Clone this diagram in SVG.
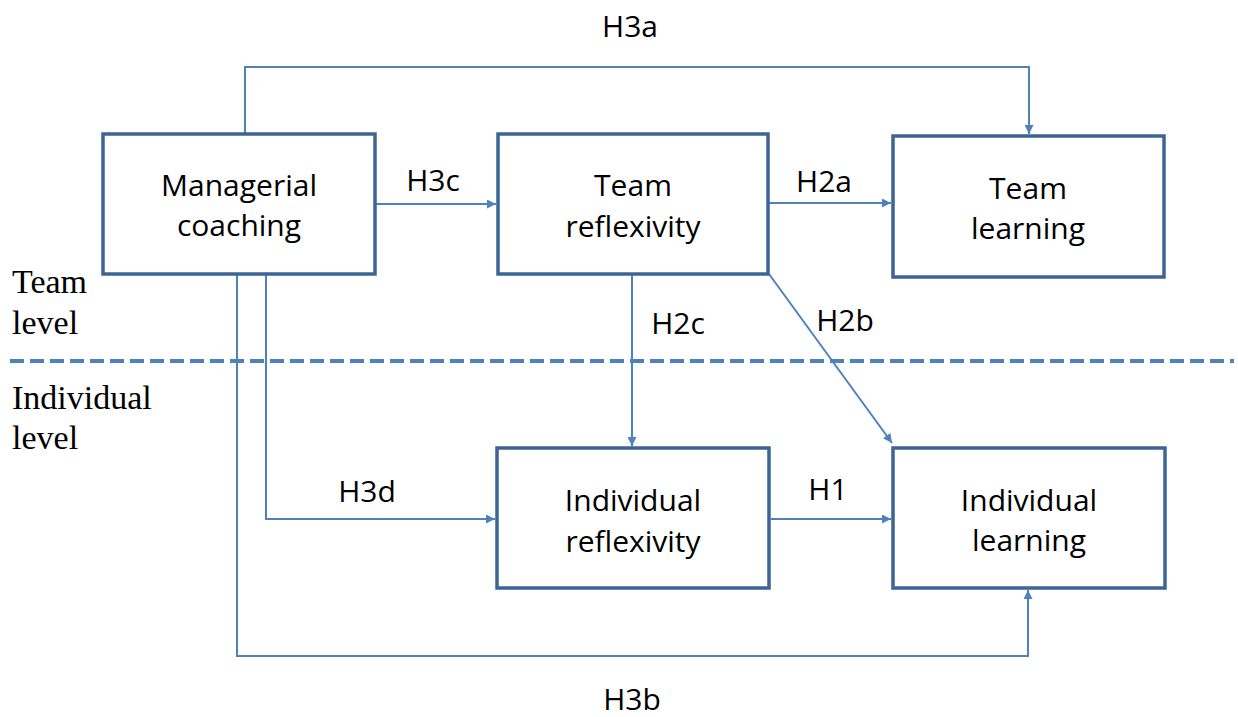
<svg xmlns="http://www.w3.org/2000/svg" width="1238" height="717" viewBox="0 0 1238 717">
<style>
.box{fill:#fff;stroke:#3d6494;stroke-width:3.5}
.lbl{font-family:"Open Sans","Liberation Sans",sans-serif;font-size:30px;fill:#000;text-anchor:middle}
.side{font-family:"Liberation Serif",serif;font-size:34px;fill:#000}
.con{fill:none;stroke:#4f81bd;stroke-width:2}
</style>
<defs>
<marker id="ah" viewBox="0 0 10 10" refX="10" refY="5" markerWidth="10" markerHeight="9" orient="auto" markerUnits="userSpaceOnUse">
<path d="M0,0 L10,5 L0,10 z" fill="#4f81bd"/>
</marker>
</defs>
<rect width="1238" height="717" fill="#fff"/>
<g id="levels">
<line x1="10" y1="361" x2="1234" y2="361" stroke="#4f81bd" stroke-width="4" stroke-dasharray="14,6"/>
<text class="side" x="12" y="293">Team</text>
<text class="side" x="12" y="334">level</text>
<text class="side" x="12" y="409">Individual</text>
<text class="side" x="12" y="449">level</text>
</g>
<g id="connectors">
<polyline class="con" points="245,133 245,67 1029,67 1029,134" marker-end="url(#ah)"/>
<line class="con" x1="376" y1="204" x2="496" y2="204" marker-end="url(#ah)"/>
<line class="con" x1="769" y1="203" x2="891" y2="203" marker-end="url(#ah)"/>
<line class="con" x1="632" y1="275" x2="632" y2="446" marker-end="url(#ah)"/>
<line class="con" x1="769" y1="274" x2="892" y2="443" marker-end="url(#ah)"/>
<polyline class="con" points="266,275 266,519 495,519" marker-end="url(#ah)"/>
<line class="con" x1="771" y1="519" x2="891" y2="519" marker-end="url(#ah)"/>
<polyline class="con" points="237,275 237,656 1028,656 1028,590" marker-end="url(#ah)"/>
<text class="lbl" x="630" y="37">H3a</text>
<text class="lbl" x="433" y="191">H3c</text>
<text class="lbl" x="824" y="192">H2a</text>
<text class="lbl" x="678" y="334">H2c</text>
<text class="lbl" x="845" y="331">H2b</text>
<text class="lbl" x="367" y="502">H3d</text>
<text class="lbl" x="828" y="500">H1</text>
<text class="lbl" x="632" y="710">H3b</text>
</g>
<g id="managerial-coaching">
<rect class="box" x="103" y="134" width="272" height="140"/>
<text class="lbl" x="239" y="196">Managerial</text>
<text class="lbl" x="239" y="236">coaching</text>
</g>
<g id="team-reflexivity">
<rect class="box" x="498" y="134" width="270" height="140"/>
<text class="lbl" x="633" y="196">Team</text>
<text class="lbl" x="633" y="237">reflexivity</text>
</g>
<g id="team-learning">
<rect class="box" x="893" y="136" width="271" height="141"/>
<text class="lbl" x="1028" y="199">Team</text>
<text class="lbl" x="1028" y="239">learning</text>
</g>
<g id="individual-reflexivity">
<rect class="box" x="497" y="448" width="272" height="140"/>
<text class="lbl" x="633" y="511">Individual</text>
<text class="lbl" x="633" y="552">reflexivity</text>
</g>
<g id="individual-learning">
<rect class="box" x="893" y="448" width="272" height="140"/>
<text class="lbl" x="1029" y="511">Individual</text>
<text class="lbl" x="1029" y="551">learning</text>
</g>
</svg>
